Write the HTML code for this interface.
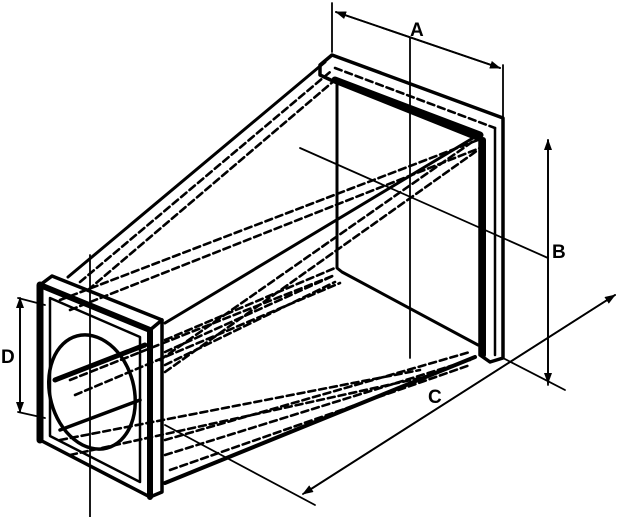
<!DOCTYPE html>
<html><head><style>body{margin:0;background:#fff}svg{display:block}</style></head><body>
<svg width="621" height="517" viewBox="0 0 621 517" xmlns="http://www.w3.org/2000/svg" stroke="#000" fill="none" stroke-linecap="round" stroke-linejoin="round">
<defs><marker id="ah" markerWidth="11" markerHeight="8" refX="10" refY="4" orient="auto" markerUnits="userSpaceOnUse"><path d="M0,0 L11,4 L0,8 Z" fill="#000" stroke="none"/></marker></defs>
<g stroke-width="2.6" stroke-dasharray="7,4">
<path d="M80,282 L330,72"/><path d="M88,290 L335,80"/>
<path d="M335,68 L495,128"/>
<path d="M160,360 L475,140"/><path d="M165,372 L478,150"/>
<path d="M60,300 L478,140"/><path d="M70,310 L480,148"/>
<path d="M165,340 L335,268"/><path d="M165,352 L335,275"/><path d="M165,365 L335,282"/>
<path d="M70,380 L335,275"/><path d="M75,395 L340,283"/>
<path d="M165,440 L470,352"/><path d="M165,455 L470,360"/><path d="M170,470 L470,365"/>
<path d="M60,440 L420,370"/><path d="M70,455 L420,378"/>
</g>
<g stroke-width="3">
<path d="M68,277 L325,62"/>
<path d="M165,323 L478,135"/>
<path d="M165,483 L475,357" stroke-width="4"/>
<path d="M337,80 L337,268 L342,272 L478,345"/>
</g>
<g stroke-width="4">
<path d="M320,65 L332,55 L503,118 L503,358 L490,362 L480,355 L480,140 L335,82 L320,75 Z" stroke-width="3.5"/>
<path d="M335,80 L480,135" stroke-width="7"/>
<path d="M483,140 L483,355" stroke-width="6"/>
<path d="M495,128 L495,355" stroke-width="2.5"/>
</g>
<g stroke-width="3.5">
<path d="M40,285 L52,276 L162,320 L162,492 L150,497 L40,440 Z"/>
<path d="M40,285 L150,330 L150,497" stroke-width="6"/>
<path d="M150,330 L162,320"/>
<path d="M40,285 L40,440" stroke-width="7"/>
<path d="M50,298 L140,337 L140,482 L50,436 Z" stroke-width="2.5"/>
<ellipse cx="92" cy="392" rx="42" ry="58" transform="rotate(-15 92 392)" stroke-width="3.5"/>
<path d="M55,380 L145,345" stroke-width="5"/>
<path d="M60,430 L140,400" stroke-width="3.5"/>
</g>
<g stroke-width="1.8">
<path d="M90,255 L90,517"/>
<path d="M410,38 L410,358"/>
<path d="M300,148 L548,258"/>
<path d="M503,358 L565,390"/>
<path d="M332,3 L332,52"/><path d="M503,65 L503,118"/>
<path d="M336,12 L500,68" marker-end="url(#ah)"/>
<path d="M500,68 L336,12" marker-end="url(#ah)"/>
<path d="M548,385 L548,140" marker-end="url(#ah)"/><path d="M548,140 L548,383" marker-end="url(#ah)"/>
<path d="M165,425 L315,505"/>
<path d="M305,493 L615,295" marker-end="url(#ah)"/><path d="M615,295 L303,494" marker-end="url(#ah)"/>
<path d="M20,298 L20,412" marker-end="url(#ah)"/><path d="M20,412 L20,298" marker-end="url(#ah)"/>
<path d="M18,298 L45,305"/><path d="M18,412 L45,418"/>
</g>
<g font-family="Liberation Sans, sans-serif" font-weight="bold" font-size="19" fill="#000" stroke="none">
<text x="410" y="36">A</text>
<text x="552" y="258">B</text>
<text x="428" y="403">C</text>
<text x="1" y="363">D</text>
</g>
</svg>
</body></html>
